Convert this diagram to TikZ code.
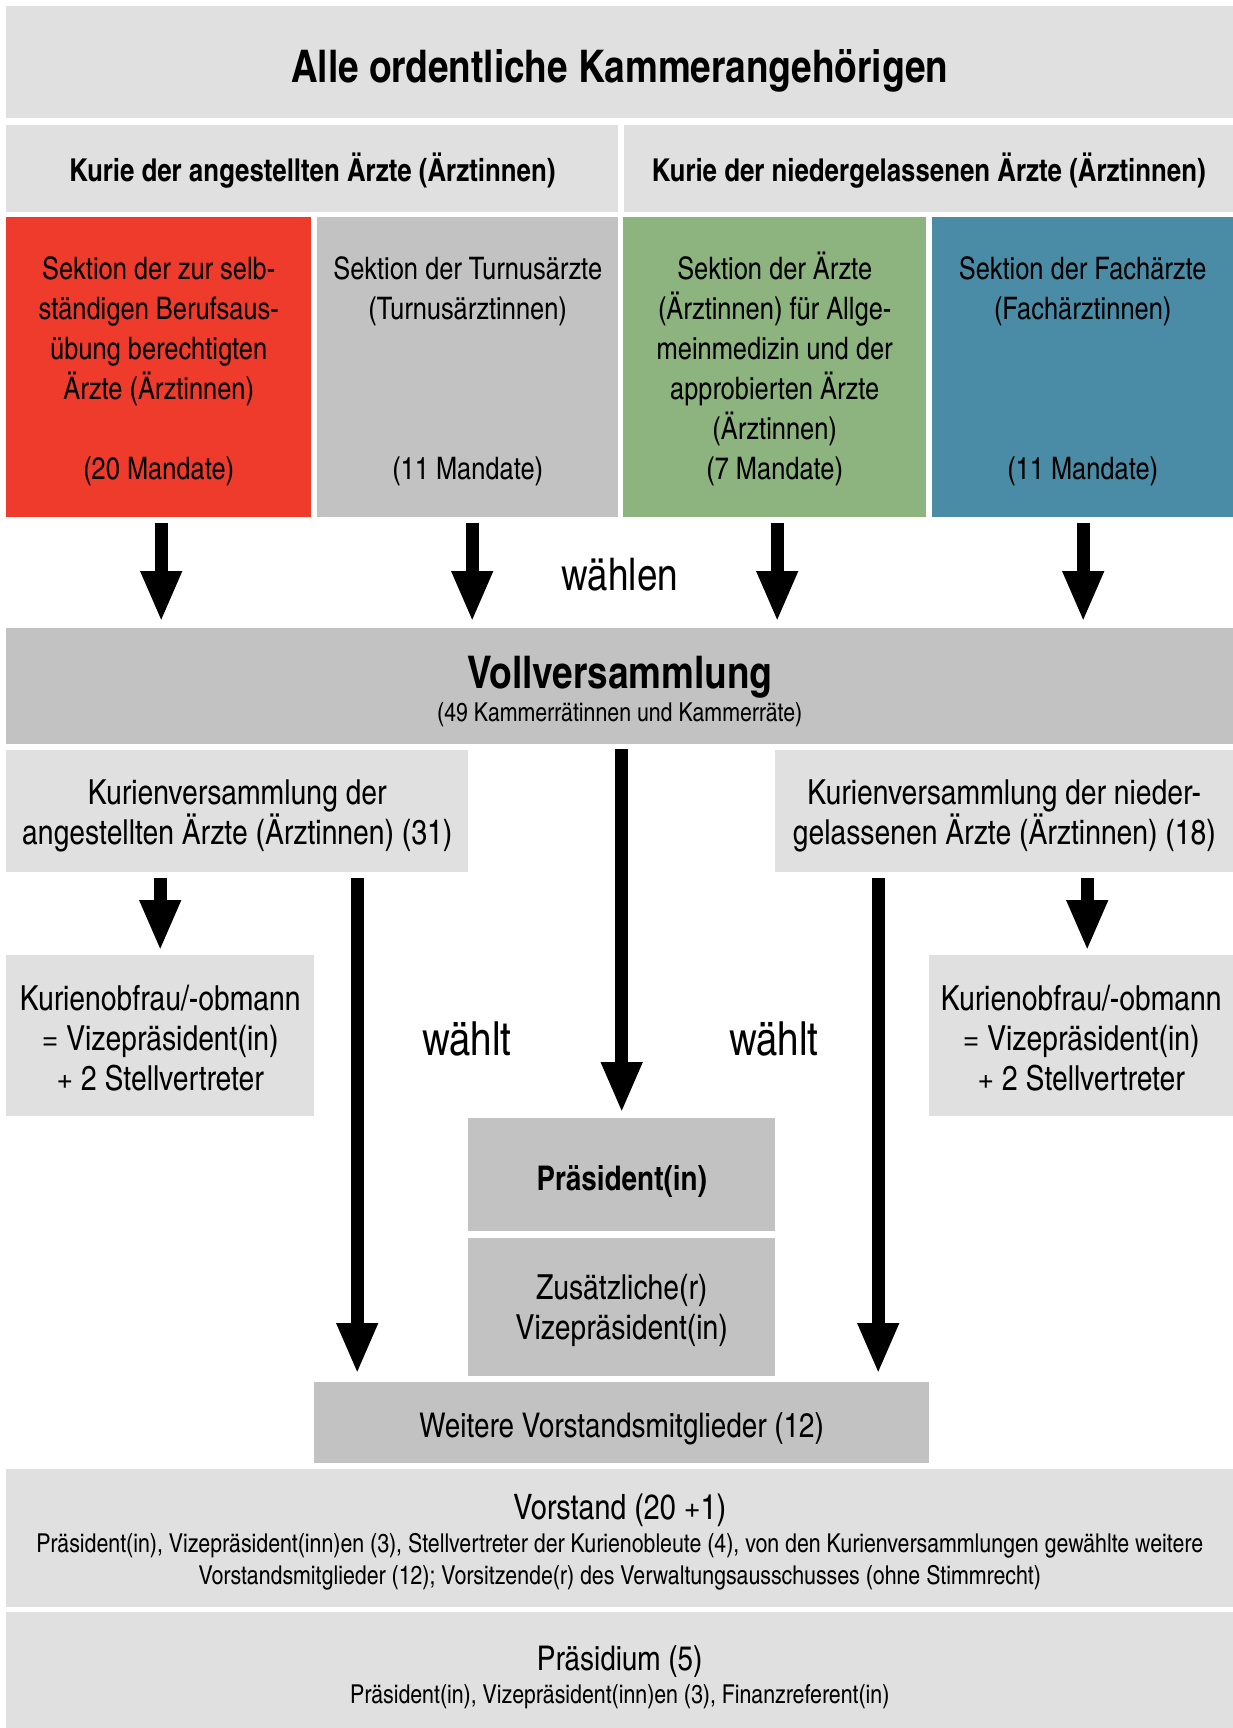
\documentclass[tikz,border=0pt]{standalone}
\usepackage{fontspec}
\setmainfont{texgyreheroscn}[Extension=.otf, UprightFont=*-regular, BoldFont=*-bold]
\usetikzlibrary{positioning, arrows.meta}

\definecolor{hellgrau}{HTML}{E0E0E0}
\definecolor{mittelgrau}{HTML}{C2C2C2}
\definecolor{sekrot}{HTML}{EF3B2C}
\definecolor{sekgruen}{HTML}{8DB37F}
\definecolor{sekblau}{HTML}{4A8CA6}

\newcommand\titelfont{\fontsize{45}{54}\selectfont\bfseries}
\newcommand\kopffont{\fontsize{31.5}{38}\selectfont\bfseries}
\newcommand\sekfont{\fontsize{31}{40}\selectfont}
\newcommand\kastenfont{\fontsize{34.5}{40}\selectfont}
\newcommand\grossfont{\fontsize{34}{40}\selectfont}
\newcommand\kleinfont{\fontsize{26}{32.5}\selectfont}
\newcommand\wahlfont{\fontsize{45}{54}\selectfont}
% struts: first line height, last line depth
\newcommand\oben[1]{\rule{0pt}{#1pt}}
\newcommand\unten{\rule[-10pt]{0pt}{10pt}}

\begin{document}
\begin{tikzpicture}[
    x=1pt, y=-1pt,
    % Styles
    box/.style={ % flat box, no border
        rectangle,
        anchor=north west,
        inner sep=0pt,
        align=center,
        fill=hellgrau
    },
    sektion/.style={ % coloured section boxes
        box,
        minimum height=300pt,
        font=\sekfont
    },
    kasten/.style={ % grey boxes in the lower half
        box,
        font=\kastenfont
    },
    wahl/.style={ % "waehlen" labels
        font=\wahlfont,
        inner sep=0pt
    },
    pfeil/.style={ % thick black arrows
        line width=13pt,
        -{Triangle[width=38pt, length=51pt]}
    }
]
    \useasboundingbox (0,0) rectangle (1233,1728);

    % Top rows
    \node[box, minimum width=1227pt, minimum height=112pt, font=\titelfont] (alle) at (6,6)
        {\oben{50.4}Alle ordentliche Kammerangehörigen\unten};
    \node[box, minimum width=612pt, minimum height=87pt, font=\kopffont] (kurieA) at (6,125)
        {\oben{35.6}Kurie der angestellten Ärzte (Ärztinnen)\unten};
    \node[box, minimum width=609pt, minimum height=87pt, font=\kopffont] (kurieN) at (624,125)
        {\oben{35.6}Kurie der niedergelassenen Ärzte (Ärztinnen)\unten};

    % Sections
    \node[sektion, fill=sekrot, minimum width=305pt] (sekR) at (6,217)
        {\oben{33.8}Sektion der zur selb-\\ständigen Berufsaus-\\übung berechtigten\\Ärzte (Ärztinnen)\\[40pt](20 Mandate)\unten};
    \node[sektion, fill=mittelgrau, minimum width=301pt] (sekT) at (317,217)
        {\oben{33.8}Sektion der Turnusärzte\\(Turnusärztinnen)\\[120pt](11 Mandate)\unten};
    \node[sektion, fill=sekgruen, minimum width=303pt] (sekA) at (623,217)
        {\oben{33.8}Sektion der Ärzte\\(Ärztinnen) für Allge-\\meinmedizin und der\\approbierten Ärzte\\(Ärztinnen)\\(7 Mandate)\unten};
    \node[sektion, fill=sekblau, minimum width=301pt] (sekF) at (932,217)
        {\oben{33.8}Sektion der Fachärzte\\(Fachärztinnen)\\[120pt](11 Mandate)\unten};

    \node[wahl] (waehlen) at (620,575) {wählen};

    % Full assembly
    \node[box, fill=mittelgrau, minimum width=1227pt, minimum height=116pt, font=\kleinfont] (voll) at (6,628)
        {{\titelfont\oben{47.3}Vollversammlung}\\(49 Kammerrätinnen und Kammerräte)\unten};

    \foreach \s/\dx in {sekR/2.5, sekT/4.5, sekA/2.5, sekF/0.5} {
        \coordinate (\s-a) at ([xshift=\dx pt]\s.south);
        \draw[pfeil, shorten <=6pt, shorten >=6pt] (\s-a) -- (\s-a |- voll.north);
    }

    % Curia assemblies
    \node[kasten, minimum width=462pt, minimum height=122pt] (kvl) at (6,750)
        {\oben{36.4}Kurienversammlung der\\angestellten Ärzte (Ärztinnen) (31)\unten};
    \node[kasten, minimum width=458pt, minimum height=122pt] (kvr) at (775,750)
        {\oben{36.4}Kurienversammlung der nieder-\\gelassenen Ärzte (Ärztinnen) (18)\unten};

    \node[kasten, minimum width=308pt, minimum height=161pt] (kobl) at (6,955)
        {\oben{40}Kurienobfrau/-obmann\\= Vizepräsident(in)\\+ 2 Stellvertreter\unten};
    \node[kasten, minimum width=304pt, minimum height=161pt] (kobr) at (929,955)
        {\oben{40}Kurienobfrau/-obmann\\= Vizepräsident(in)\\+ 2 Stellvertreter\unten};

    \node[wahl, font=\fontsize{47}{54}\selectfont] (waehltL) at (467,1039) {wählt};
    \node[wahl, font=\fontsize{47}{54}\selectfont] (waehltR) at (774,1039) {wählt};

    % President
    \node[box, fill=mittelgrau, minimum width=307pt, minimum height=113pt, font=\grossfont\bfseries] (praes) at (468,1118)
        {\oben{41.2}Präsident(in)\unten};
    \node[kasten, fill=mittelgrau, minimum width=307pt, minimum height=138pt, below=6pt of praes] (zus)
        {\oben{36.6}Zusätzliche(r)\\Vizepräsident(in)\unten};
    \node[box, fill=mittelgrau, minimum width=615pt, minimum height=81pt, font=\grossfont] (weit) at (314,1382)
        {\oben{39}Weitere Vorstandsmitglieder (12)\unten};

    % Board and presidium
    \node[box, minimum width=1227pt, minimum height=138pt, font=\kleinfont] (vorst) at (6,1469)
        {{\fontsize{35}{40}\selectfont\oben{38.2}Vorstand (20 +1)}\\Präsident(in), Vizepräsident(inn)en (3), Stellvertreter der Kurienobleute (4), von den Kurienversammlungen gewählte weitere\\Vorstandsmitglieder (12); Vorsitzende(r) des Verwaltungsausschusses (ohne Stimmrecht)\unten};
    \node[box, minimum width=1227pt, minimum height=116pt, font=\kleinfont] (praesidium) at (6,1612)
        {{\grossfont\oben{43.7}Präsidium (5)}\\Präsident(in), Vizepräsident(inn)en (3), Finanzreferent(in)\unten};

    % Arrows below the full assembly
    \draw[pfeil, shorten <=5pt, shorten >=5pt] (voll.south -| praes.north) -- (praes.north);
    \draw[pfeil, shorten <=6pt, shorten >=4pt] (kvl.south -| kobl.north) -- (kobl.north);
    \coordinate (kobrTop) at ([xshift=6pt]kobr.north);
    \draw[pfeil, shorten <=6pt, shorten >=4pt] (kobrTop |- kvr.south) -- (kobrTop);
    \coordinate (linksOben) at ([xshift=120pt]kvl.south);
    \coordinate (rechtsOben) at ([xshift=-126pt]kvr.south);
    \draw[pfeil, shorten <=6pt, shorten >=8pt] (linksOben) -- (linksOben |- weit.north);
    \draw[pfeil, shorten <=6pt, shorten >=8pt] (rechtsOben) -- (rechtsOben |- weit.north);

\end{tikzpicture}
\end{document}
